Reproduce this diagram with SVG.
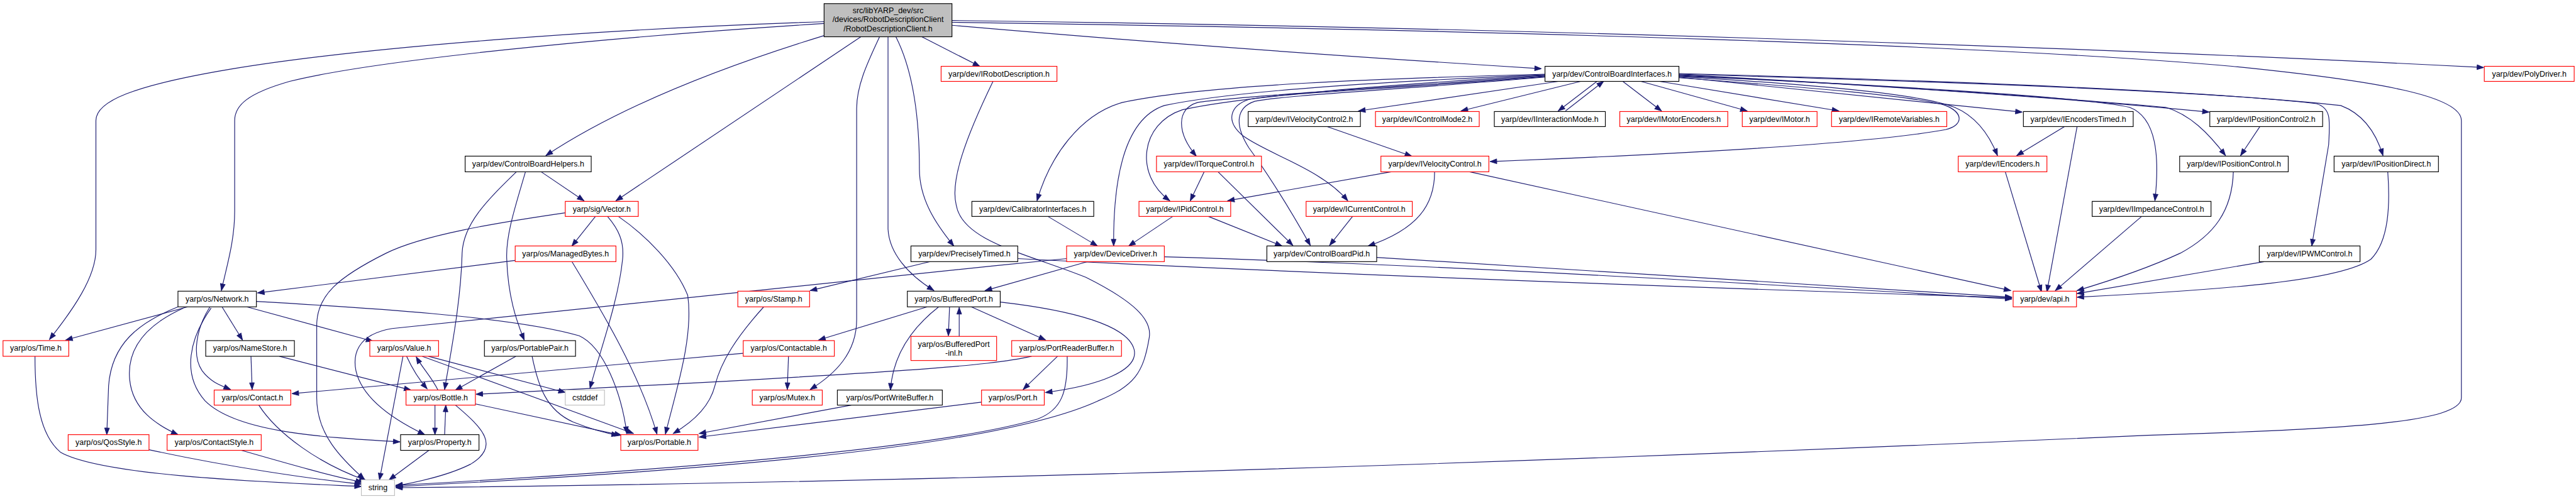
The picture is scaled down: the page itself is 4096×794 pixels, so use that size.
<svg xmlns="http://www.w3.org/2000/svg" width="4096" height="794" viewBox="0 0 4096 794">
<defs>
<marker id="a" markerUnits="userSpaceOnUse" markerWidth="12" markerHeight="9" refX="11" refY="4" orient="auto" overflow="visible"><path d="M0,0 L11,4 L0,8 Z" fill="#191970" stroke="#191970" stroke-width="1"/></marker>
<style>
.n rect{fill:#fff;stroke-width:1.2}
.b rect{stroke:#000}
.r rect{stroke:#ff0000}
.g rect{stroke:#bfbfbf}
.m rect{fill:#bfbfbf;stroke:#000}
text{font-family:"Liberation Sans",Arial,sans-serif;font-size:13px;text-anchor:middle;fill:#000}
#edges path{fill:none;stroke:#191970;stroke-width:1.2;marker-end:url(#a)}
</style>
</defs>
<rect width="4096" height="794" fill="#fff"/>
<g transform="scale(0.95925)">
<g id="edges">
<path d="M1366,36 C1000,48 600,78 380,115 C220,142 159,168 159,200 L159,414 C159,460 120,515 82,563"/>
<path d="M1366,39 C1000,62 620,100 480,135 C410,155 389,175 389,200 L389,350 C389,400 376,440 367,482"/>
<path d="M1366,59 C1200,110 1030,175 905,258"/>
<path d="M1427,61 L1021,333"/>
<path d="M1458,61 C1440,100 1420,140 1420,180 L1420,530 C1420,585 1385,620 1343,646"/>
<path d="M1472,61 L1472,380 C1474,420 1505,455 1548,482"/>
<path d="M1485,61 C1515,120 1524,200 1524,280 C1524,330 1550,370 1581,408"/>
<path d="M1528,61 L1624,110"/>
<path d="M1578,42 C1900,70 2250,95 2555,114"/>
<path d="M1578,34 C2500,45 3500,80 4117,112"/>
<path d="M1578,37 C2500,50 3300,75 3700,110 C3950,135 4080,160 4080,200 L4080,660 C4080,700 3900,712 3560,722 C2600,765 1600,800 656,809"/>
<path d="M897,285 L968,333"/>
<path d="M856,285 C810,330 768,370 766,420 C764,500 748,580 737,646"/>
<path d="M871,285 C855,340 838,390 840,430 C842,490 855,530 869,564"/>
<path d="M987,359 L948,408"/>
<path d="M937,353 C820,370 700,390 640,420 C560,460 525,490 525,540 L525,660 C525,720 565,760 604,795"/>
<path d="M1007,359 C1025,380 1035,400 1032,430 C1025,500 995,580 978,644"/>
<path d="M1025,359 C1070,390 1120,440 1140,490 C1150,560 1120,650 1103,720"/>
<path d="M854,432 L427,486"/>
<path d="M948,434 C1000,520 1060,620 1089,720"/>
<path d="M311,509 L109,564"/>
<path d="M295,509 C230,535 185,570 180,640 L177,721"/>
<path d="M304,511 C240,540 210,580 215,630 C220,680 260,705 295,721"/>
<path d="M348,509 C325,545 318,590 335,615 C350,635 368,640 382,646"/>
<path d="M350,511 C315,560 300,620 340,665 C390,715 520,725 663,733"/>
<path d="M368,509 L402,564"/>
<path d="M409,509 L618,566"/>
<path d="M425,500 C600,510 850,525 960,557 C1000,575 1030,650 1039,719"/>
<path d="M58,591 C58,660 65,720 100,750 C170,790 450,800 599,807"/>
<path d="M247,746 C380,775 520,795 599,803"/>
<path d="M400,747 C480,770 550,790 601,800"/>
<path d="M429,672 C460,720 530,770 607,797"/>
<path d="M416,591 L418,646"/>
<path d="M463,591 L681,647"/>
<path d="M668,591 L629,796"/>
<path d="M674,591 C685,615 695,630 708,645"/>
<path d="M726,647 C715,625 700,610 690,592"/>
<path d="M710,591 L937,651"/>
<path d="M700,591 L1050,719"/>
<path d="M721,672 L721,721"/>
<path d="M737,721 L739,672"/>
<path d="M788,670 L1030,722"/>
<path d="M755,672 C800,710 830,740 780,770 C740,790 690,800 656,806"/>
<path d="M711,747 L645,796"/>
<path d="M855,591 L755,647"/>
<path d="M882,591 C892,640 905,680 950,700 C980,712 1000,718 1025,722"/>
<path d="M1266,509 C1220,560 1195,600 1185,640 C1175,680 1140,705 1116,719"/>
<path d="M1232,586 L484,653"/>
<path d="M1307,591 L1305,646"/>
<path d="M1411,672 L1159,719"/>
<path d="M1627,667 L1159,725"/>
<path d="M1710,591 C1640,607 1500,618 789,654"/>
<path d="M1753,591 L1696,646"/>
<path d="M1769,591 C1770,650 1760,680 1720,695 C1600,730 1300,770 656,805"/>
<path d="M1537,509 L1357,564"/>
<path d="M1556,509 C1510,545 1480,590 1476,647"/>
<path d="M1574,509 L1572,557"/>
<path d="M1590,558 L1590,510"/>
<path d="M1610,509 L1733,564"/>
<path d="M1658,501 C1780,515 1870,540 1880,580 C1888,615 1820,640 1733,651"/>
<path d="M1646,135 C1600,230 1575,300 1585,340 C1595,400 1700,420 1800,460 C1880,500 1910,530 1905,560 C1895,620 1880,640 1820,665 C1700,720 1400,770 656,807"/>
<path d="M1803,434 L1633,482"/>
<path d="M1768,429 C1300,475 800,528 650,545 C590,555 585,590 590,615 C600,660 650,695 704,721"/>
<path d="M1930,426 C2400,440 2900,470 3335,496"/>
<path d="M1542,434 L1343,482"/>
<path d="M1687,429 C2200,455 2900,480 3335,494"/>
<path d="M2282,427 C2700,455 3100,480 3335,493"/>
<path d="M2436,285 L3333,482"/>
<path d="M2306,285 L2035,333"/>
<path d="M2378,285 C2378,340 2350,380 2268,408"/>
<path d="M2200,210 L2340,259"/>
<path d="M1996,285 L1973,333"/>
<path d="M2019,285 L2143,407"/>
<path d="M1944,359 L1871,408"/>
<path d="M2003,359 L2125,408"/>
<path d="M2242,359 L2204,407"/>
<path d="M1737,359 L1819,408"/>
<path d="M3422,210 L3343,258"/>
<path d="M3443,210 L3393,484"/>
<path d="M3324,285 L3384,484"/>
<path d="M3550,359 L3407,482"/>
<path d="M3746,210 L3714,258"/>
<path d="M3702,285 C3700,350 3670,390 3614,420 C3560,445 3490,468 3443,482"/>
<path d="M3753,434 L3443,487"/>
<path d="M3958,285 C3962,340 3960,400 3930,430 C3880,465 3700,480 3443,493"/>
<path d="M2595,184 L2658,135"/>
<path d="M2647,135 L2583,184"/>
<path d="M2583,135 L2252,184"/>
<path d="M2620,135 L2422,184"/>
<path d="M2690,135 L2754,184"/>
<path d="M2720,135 L2896,184"/>
<path d="M2751,135 L3048,184"/>
<path d="M2561,123 C2300,130 2000,140 1860,170 C1790,190 1740,260 1719,333"/>
<path d="M2561,124 C2300,135 2050,150 1930,175 C1870,195 1845,280 1846,408"/>
<path d="M2561,125 C2300,140 2060,160 1960,182 C1890,205 1880,290 1939,333"/>
<path d="M2561,126 C2300,145 2050,160 1985,170 C1950,180 1950,220 1983,259"/>
<path d="M2561,127 C2300,148 2120,155 2070,165 C2040,175 2030,200 2060,225 C2100,255 2190,280 2234,333"/>
<path d="M2561,128 C2300,150 2130,158 2080,168 C2050,178 2045,205 2070,245 C2110,300 2140,350 2172,407"/>
<path d="M2783,128 C3000,150 3200,172 3352,186"/>
<path d="M2783,127 C3000,140 3180,155 3240,178 C3280,195 3300,230 3311,258"/>
<path d="M2783,129 C3000,145 3180,160 3225,175 C3255,187 3255,208 3225,215 C3100,238 2800,255 2470,268"/>
<path d="M2783,126 C3100,140 3450,160 3530,178 C3575,195 3580,260 3572,333"/>
<path d="M2783,125 C3100,140 3450,165 3662,186"/>
<path d="M2783,124 C3100,140 3450,165 3590,178 C3630,190 3660,220 3689,258"/>
<path d="M2783,123 C3200,135 3650,150 3840,172 C3865,180 3862,200 3860,240 L3832,408"/>
<path d="M2783,122 C3200,133 3650,150 3880,175 C3920,190 3940,225 3950,258"/>
</g>
<g id="n-main" class="n m"><rect x="1366" y="6" width="212" height="55"/><text x="1472" y="22">src/libYARP_dev/src</text><text x="1472" y="37">/devices/RobotDescriptionClient</text><text x="1472" y="52">/RobotDescriptionClient.h</text></g>
<g id="n-irobotdesc" class="n r"><rect x="1560" y="110" width="192" height="25"/><text x="1656" y="127">yarp/dev/IRobotDescription.h</text></g>
<g id="n-cbi" class="n b"><rect x="2561" y="110" width="222" height="25"/><text x="2672" y="127">yarp/dev/ControlBoardInterfaces.h</text></g>
<g id="n-polydriver" class="n r"><rect x="4118" y="110" width="149" height="25"/><text x="4192.5" y="127">yarp/dev/PolyDriver.h</text></g>
<g id="n-ivel2" class="n b"><rect x="2069" y="185" width="186" height="25"/><text x="2162" y="202">yarp/dev/IVelocityControl2.h</text></g>
<g id="n-icm2" class="n r"><rect x="2280" y="185" width="172" height="25"/><text x="2366" y="202">yarp/dev/IControlMode2.h</text></g>
<g id="n-iim" class="n b"><rect x="2477" y="185" width="184" height="25"/><text x="2569" y="202">yarp/dev/IInteractionMode.h</text></g>
<g id="n-imotenc" class="n r"><rect x="2685" y="185" width="179" height="25"/><text x="2774.5" y="202">yarp/dev/IMotorEncoders.h</text></g>
<g id="n-imotor" class="n r"><rect x="2888" y="185" width="124" height="25"/><text x="2950" y="202">yarp/dev/IMotor.h</text></g>
<g id="n-iremvar" class="n r"><rect x="3036" y="185" width="191" height="25"/><text x="3131.5" y="202">yarp/dev/IRemoteVariables.h</text></g>
<g id="n-ienctimed" class="n b"><rect x="3354" y="185" width="182" height="25"/><text x="3445" y="202">yarp/dev/IEncodersTimed.h</text></g>
<g id="n-ipos2" class="n b"><rect x="3663" y="185" width="187" height="25"/><text x="3756.5" y="202">yarp/dev/IPositionControl2.h</text></g>
<g id="n-cbh" class="n b"><rect x="771" y="259" width="209" height="26"/><text x="875.5" y="276">yarp/dev/ControlBoardHelpers.h</text></g>
<g id="n-itorque" class="n r"><rect x="1917" y="259" width="174" height="26"/><text x="2004" y="276">yarp/dev/ITorqueControl.h</text></g>
<g id="n-ivel" class="n r"><rect x="2289" y="259" width="179" height="26"/><text x="2378.5" y="276">yarp/dev/IVelocityControl.h</text></g>
<g id="n-ienc" class="n r"><rect x="3246" y="259" width="147" height="26"/><text x="3319.5" y="276">yarp/dev/IEncoders.h</text></g>
<g id="n-ipos" class="n b"><rect x="3613" y="259" width="180" height="26"/><text x="3703" y="276">yarp/dev/IPositionControl.h</text></g>
<g id="n-iposdir" class="n b"><rect x="3869" y="259" width="173" height="26"/><text x="3955.5" y="276">yarp/dev/IPositionDirect.h</text></g>
<g id="n-vector" class="n r"><rect x="937" y="334" width="121" height="25"/><text x="997.5" y="351">yarp/sig/Vector.h</text></g>
<g id="n-calib" class="n b"><rect x="1611" y="334" width="202" height="25"/><text x="1712" y="351">yarp/dev/CalibratorInterfaces.h</text></g>
<g id="n-ipid" class="n r"><rect x="1888" y="334" width="152" height="25"/><text x="1964" y="351">yarp/dev/IPidControl.h</text></g>
<g id="n-icurrent" class="n r"><rect x="2165" y="334" width="176" height="25"/><text x="2253" y="351">yarp/dev/ICurrentControl.h</text></g>
<g id="n-iimped" class="n b"><rect x="3468" y="334" width="197" height="25"/><text x="3566.5" y="351">yarp/dev/IImpedanceControl.h</text></g>
<g id="n-managed" class="n r"><rect x="854" y="408" width="167" height="26"/><text x="937.5" y="425">yarp/os/ManagedBytes.h</text></g>
<g id="n-precise" class="n b"><rect x="1510" y="408" width="177" height="26"/><text x="1598.5" y="425">yarp/dev/PreciselyTimed.h</text></g>
<g id="n-devdrv" class="n r"><rect x="1768" y="408" width="162" height="26"/><text x="1849" y="425">yarp/dev/DeviceDriver.h</text></g>
<g id="n-cbpid" class="n b"><rect x="2100" y="408" width="182" height="26"/><text x="2191" y="425">yarp/dev/ControlBoardPid.h</text></g>
<g id="n-ipwm" class="n b"><rect x="3745" y="408" width="167" height="26"/><text x="3828.5" y="425">yarp/dev/IPWMControl.h</text></g>
<g id="n-network" class="n b"><rect x="295" y="483" width="130" height="26"/><text x="360" y="500">yarp/os/Network.h</text></g>
<g id="n-stamp" class="n r"><rect x="1223" y="483" width="119" height="26"/><text x="1282.5" y="500">yarp/os/Stamp.h</text></g>
<g id="n-bport" class="n b"><rect x="1504" y="483" width="154" height="26"/><text x="1581" y="500">yarp/os/BufferedPort.h</text></g>
<g id="n-api" class="n r"><rect x="3337" y="483" width="105" height="26"/><text x="3389.5" y="500">yarp/dev/api.h</text></g>
<g id="n-time" class="n r"><rect x="5" y="565" width="109" height="26"/><text x="59.5" y="582">yarp/os/Time.h</text></g>
<g id="n-namestore" class="n b"><rect x="341" y="565" width="147" height="26"/><text x="414.5" y="582">yarp/os/NameStore.h</text></g>
<g id="n-value" class="n r"><rect x="613" y="565" width="114" height="26"/><text x="670" y="582">yarp/os/Value.h</text></g>
<g id="n-pair" class="n b"><rect x="803" y="565" width="151" height="26"/><text x="878.5" y="582">yarp/os/PortablePair.h</text></g>
<g id="n-contactable" class="n r"><rect x="1232" y="565" width="151" height="26"/><text x="1307.5" y="582">yarp/os/Contactable.h</text></g>
<g id="n-bportinl" class="n r"><rect x="1510" y="558" width="142" height="40"/><text x="1581" y="575">yarp/os/BufferedPort</text><text x="1581" y="590">-inl.h</text></g>
<g id="n-prb" class="n r"><rect x="1677" y="565" width="182" height="26"/><text x="1768" y="582">yarp/os/PortReaderBuffer.h</text></g>
<g id="n-contact" class="n r"><rect x="355" y="647" width="127" height="25"/><text x="418.5" y="664">yarp/os/Contact.h</text></g>
<g id="n-bottle" class="n r"><rect x="673" y="647" width="115" height="25"/><text x="730.5" y="664">yarp/os/Bottle.h</text></g>
<g id="n-cstddef" class="n g"><rect x="937" y="647" width="65" height="25"/><text x="969.5" y="664">cstddef</text></g>
<g id="n-mutex" class="n r"><rect x="1247" y="647" width="116" height="25"/><text x="1305" y="664">yarp/os/Mutex.h</text></g>
<g id="n-pwb" class="n b"><rect x="1388" y="647" width="174" height="25"/><text x="1475" y="664">yarp/os/PortWriteBuffer.h</text></g>
<g id="n-port" class="n r"><rect x="1627" y="647" width="104" height="25"/><text x="1679" y="664">yarp/os/Port.h</text></g>
<g id="n-qos" class="n r"><rect x="113" y="721" width="134" height="26"/><text x="180" y="738">yarp/os/QosStyle.h</text></g>
<g id="n-contactstyle" class="n r"><rect x="277" y="721" width="156" height="26"/><text x="355" y="738">yarp/os/ContactStyle.h</text></g>
<g id="n-property" class="n b"><rect x="664" y="721" width="130" height="26"/><text x="729" y="738">yarp/os/Property.h</text></g>
<g id="n-portable" class="n r"><rect x="1029" y="721" width="128" height="26"/><text x="1093" y="738">yarp/os/Portable.h</text></g>
<g id="n-string" class="n g"><rect x="599" y="796" width="55" height="26"/><text x="626.5" y="813">string</text></g>
</g>
</svg>
